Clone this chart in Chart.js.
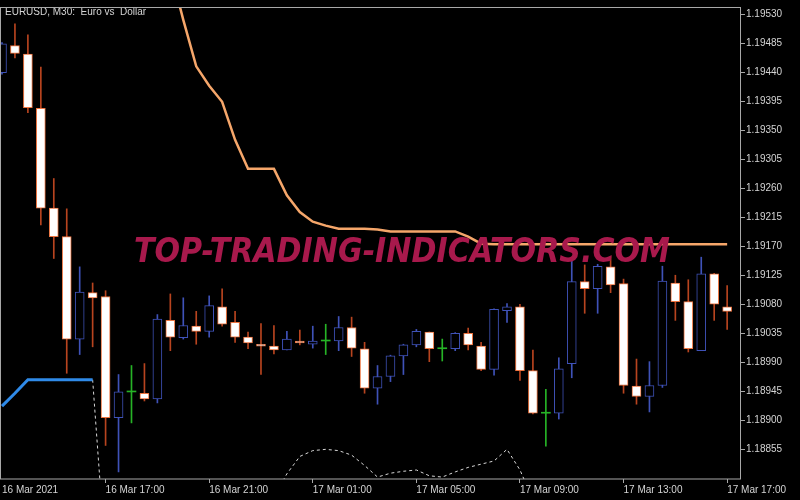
<!DOCTYPE html>
<html>
<head>
<meta charset="utf-8">
<script src="https://cdn.jsdelivr.net/npm/chart.js@4.4.0/dist/chart.umd.min.js"></script>
<style>
html, body { margin: 0; padding: 0; background: #000; }
#wrap { width: 800px; height: 500px; }
</style>
</head>
<body>
<div id="wrap"><canvas id="chart" width="800" height="500"></canvas></div>
<script>
// M30 bars, 16 Mar 13:00 .. 17 Mar 17:00
var timeLabels = ['16 Mar 2021', '16 Mar 17:00', '16 Mar 21:00', '17 Mar 01:00', '17 Mar 05:00', '17 Mar 09:00', '17 Mar 13:00', '17 Mar 17:00'];
var timeTickIdx = [0, 8, 16, 24, 32, 40, 48, 56];
var priceTicks = [1.18855, 1.18900, 1.18945, 1.18990, 1.19035, 1.19080, 1.19125, 1.19170, 1.19215, 1.19260, 1.19305, 1.19350, 1.19395, 1.19440, 1.19485, 1.19530];

var opens = [1.19439, 1.19481, 1.19468, 1.19384, 1.19229, 1.19185, 1.19026, 1.19098, 1.19092, 1.18904,
	1.18944, 1.18942, 1.18933, 1.19055, 1.19028, 1.19046, 1.19038, 1.19076, 1.19052, 1.19029,
	1.19018, 1.19015, 1.19009, 1.19023, 1.19018, 1.19023, 1.19023, 1.19044, 1.19011, 1.18950,
	1.18968, 1.19000, 1.19017, 1.19037, 1.19011, 1.19011, 1.19035, 1.19015, 1.18979, 1.19070,
	1.19076, 1.18977, 1.18911, 1.18911, 1.18988, 1.19115, 1.19104, 1.19138, 1.19112, 1.18953,
	1.18937, 1.18954, 1.19113, 1.19084, 1.19008, 1.19127, 1.19076];
var highs = [1.19486, 1.19515, 1.19498, 1.19448, 1.19275, 1.19228, 1.19138, 1.19113, 1.19101, 1.18971,
	1.18985, 1.18988, 1.19064, 1.19096, 1.19090, 1.19069, 1.19093, 1.19104, 1.19069, 1.19037,
	1.19050, 1.19047, 1.19038, 1.19040, 1.19046, 1.19049, 1.19061, 1.19060, 1.19021, 1.18985,
	1.19001, 1.19018, 1.19041, 1.19037, 1.19026, 1.19036, 1.19043, 1.19021, 1.19073, 1.19081,
	1.19080, 1.19009, 1.18948, 1.18997, 1.19147, 1.19141, 1.19142, 1.19154, 1.19119, 1.18995,
	1.18991, 1.19139, 1.19125, 1.19118, 1.19153, 1.19128, 1.19109];
var lows = [1.19437, 1.19462, 1.19377, 1.19203, 1.19151, 1.18973, 1.19002, 1.19014, 1.18861, 1.18820,
	1.18896, 1.18930, 1.18927, 1.19008, 1.19026, 1.19018, 1.19029, 1.19046, 1.19021, 1.19011,
	1.18971, 1.19003, 1.19009, 1.19017, 1.19012, 1.19002, 1.19008, 1.18999, 1.18942, 1.18925,
	1.18960, 1.18971, 1.19014, 1.18991, 1.18992, 1.19008, 1.19009, 1.18977, 1.18970, 1.19052,
	1.18962, 1.18910, 1.18860, 1.18902, 1.18966, 1.19066, 1.19066, 1.19098, 1.18942, 1.18925,
	1.18913, 1.18951, 1.19055, 1.19006, 1.19008, 1.19055, 1.19041];
var closes = [1.19484, 1.19469, 1.19385, 1.19229, 1.19185, 1.19026, 1.19099, 1.19090, 1.18904, 1.18944,
	1.18944, 1.18933, 1.19057, 1.19029, 1.19047, 1.19038, 1.19078, 1.19049, 1.19029, 1.19020,
	1.19015, 1.19009, 1.19026, 1.19020, 1.19023, 1.19023, 1.19044, 1.19012, 1.18950, 1.18968,
	1.19000, 1.19017, 1.19038, 1.19011, 1.19011, 1.19035, 1.19017, 1.18979, 1.19072, 1.19076,
	1.18977, 1.18911, 1.18911, 1.18980, 1.19115, 1.19104, 1.19139, 1.19110, 1.18954, 1.18937,
	1.18954, 1.19116, 1.19084, 1.19011, 1.19127, 1.19080, 1.19069];

// indicator lines (null = not drawn)
var upperLine = [null, null, null, null, null, null, null, null, null, null,
	null, null, null, 1.19599, 1.19521, 1.19449, 1.19419, 1.19394, 1.19335, 1.19290,
	1.19290, 1.19290, 1.19249, 1.19223, 1.19208, 1.19202, 1.19197, 1.19197, 1.19197, 1.19196,
	1.19193, 1.19193, 1.19193, 1.19193, 1.19193, 1.19193, 1.19185, 1.19174, 1.19173, 1.19173,
	1.19173, 1.19173, 1.19173, 1.19173, 1.19173, 1.19173, 1.19173, 1.19173, 1.19173, 1.19173,
	1.19173, 1.19173, 1.19173, 1.19173, 1.19173, 1.19173, 1.19173];
var lowerLine = [1.18922, 1.18942, 1.18963, 1.18963, 1.18963, 1.18963, 1.18963, 1.18963];
var lowerDots = [null, null, null, null, null, null, null, 1.18963, 1.18685, null,
	null, null, null, null, null, null, null, null, null, null,
	null, 1.18782, 1.18817, 1.18844, 1.18853, 1.18855, 1.18853, 1.18846, 1.18830, 1.18812,
	1.18818, 1.18821, 1.18823, 1.18814, 1.18812, 1.18820, 1.18827, 1.18832, 1.18837, 1.18855,
	1.18823, 1.18777];

var bullColor = '#3f52b8';
var bearBorder = '#ec7440';
var bearWick = '#b8441f';
var dojiColor = '#26b326';
var axisColor = '#a8a8a8';
var textColor = '#d4d4d4';

function kind(i) {
	if (closes[i] > opens[i]) return 'bull';
	if (closes[i] < opens[i]) return 'bear';
	return 'doji';
}

function toPoints(arr) {
	return arr.map(function (v, i) { return { x: i, y: v }; });
}

var wickData = highs.map(function (h, i) { return { x: i, y: [lows[i], h] }; });
var bodyData = opens.map(function (o, i) { return { x: i, y: [o, closes[i]] }; });

var framePlugin = {
	id: 'frame',
	afterDatasetsDraw: function (chart) {
		var a = chart.chartArea;
		var ctx = chart.ctx;
		ctx.save();

		// watermark
		var txt = 'TOP-TRADING-INDICATORS.COM';
		ctx.font = 'italic bold 33px "DejaVu Sans"';
		var w = ctx.measureText(txt).width;
		ctx.translate(134, 262);
		ctx.scale(536 / w, 1);
		ctx.fillStyle = '#a8194c';
		ctx.textBaseline = 'alphabetic';
		ctx.fillText(txt, 0, 0);
		ctx.setTransform(1, 0, 0, 1, 0, 0);

		// title
		ctx.font = '10px "Liberation Sans"';
		ctx.fillStyle = textColor;
		ctx.fillText('EURUSD, M30:  Euro vs  Dollar', 5, 15);

		// border
		ctx.strokeStyle = axisColor;
		ctx.lineWidth = 1;
		ctx.strokeRect(a.left + 0.5, a.top + 0.5, a.right - a.left - 1, a.bottom - a.top - 0.5);
		ctx.restore();
	}
};

var ctx = document.getElementById('chart').getContext('2d');
var chart = new Chart(ctx, {
	type: 'bar',
	data: {
		datasets: [
			{
				type: 'line',
				data: toPoints(upperLine),
				borderColor: '#f5a66a',
				borderWidth: 2.5,
				pointRadius: 0,
				tension: 0,
				order: 1
			},
			{
				type: 'line',
				data: toPoints(lowerLine),
				borderColor: '#2f8ae8',
				borderWidth: 3,
				pointRadius: 0,
				tension: 0,
				order: 1
			},
			{
				type: 'line',
				data: toPoints(lowerDots),
				borderColor: '#d8d8d8',
				borderWidth: 1,
				borderDash: [3, 3],
				pointRadius: 0,
				tension: 0,
				order: 1
			},
			{
				data: wickData,
				grouped: false,
				barThickness: 1,
				borderWidth: 0,
				backgroundColor: function (c) {
					if (c.dataIndex === undefined) return bullColor;
					var k = kind(c.dataIndex);
					return k === 'bull' ? bullColor : (k === 'bear' ? bearWick : dojiColor);
				},
				order: 3
			},
			{
				data: bodyData,
				grouped: false,
				barThickness: 9,
				minBarLength: 1,
				borderSkipped: false,
				borderWidth: function (c) {
					if (c.dataIndex === undefined) return 1;
					return kind(c.dataIndex) === 'doji' ? 0 : 1;
				},
				backgroundColor: function (c) {
					if (c.dataIndex === undefined) return '#000';
					var k = kind(c.dataIndex);
					return k === 'bull' ? '#000' : (k === 'bear' ? '#ffffff' : dojiColor);
				},
				borderColor: function (c) {
					if (c.dataIndex === undefined) return bullColor;
					var k = kind(c.dataIndex);
					return k === 'bull' ? bullColor : (k === 'bear' ? bearBorder : dojiColor);
				},
				order: 2
			}
		]
	},
	options: {
		responsive: false,
		animation: false,
		layout: { padding: 0 },
		plugins: {
			legend: { display: false },
			tooltip: { enabled: false }
		},
		scales: {
			x: {
				type: 'linear',
				min: -0.154,
				max: 57.07,
				offset: false,
				afterBuildTicks: function (s) {
					s.ticks = timeTickIdx.map(function (v) { return { value: v }; });
				},
				afterFit: function (s) { s.height = 21; },
				ticks: {
					autoSkip: false,
					maxRotation: 0,
					align: 'start',
					padding: 1,
					color: textColor,
					font: { family: 'Liberation Sans', size: 10 },
					callback: function (v, i) { return timeLabels[i]; }
				},
				grid: {
					offset: false,
					drawOnChartArea: false,
					tickLength: 4,
					color: function (c) { return c.index === 0 ? 'rgba(0,0,0,0)' : axisColor; }
				},
				border: { display: false }
			},
			y: {
				type: 'linear',
				position: 'right',
				min: 1.18809,
				max: 1.19541,
				afterBuildTicks: function (s) {
					s.ticks = priceTicks.map(function (v) { return { value: v }; });
				},
				afterFit: function (s) { s.width = 59; },
				ticks: {
					autoSkip: false,
					padding: 1,
					color: textColor,
					font: { family: 'Liberation Sans', size: 10 },
					callback: function (v) { return v.toFixed(5); }
				},
				grid: {
					drawOnChartArea: false,
					tickLength: 4,
					color: axisColor
				},
				border: { display: false }
			}
		}
	},
	plugins: [framePlugin]
});
</script>
</body>
</html>
